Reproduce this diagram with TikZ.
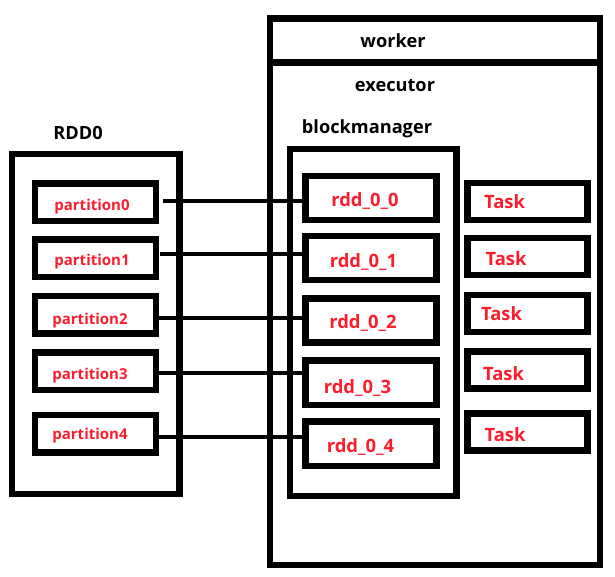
\documentclass[tikz,border=0pt]{standalone}
\usepackage{fontspec}
\setmainfont{Open Sans}
\definecolor{itemred}{RGB}{250,30,45}
\begin{document}
\begin{tikzpicture}[x=1pt, y=-1pt,
	frame/.style={draw, line width=6.5pt, inner sep=0pt},
	link/.style={line width=4pt},
	title/.style={anchor=base, inner sep=0pt, font=\bfseries\fontsize{18.2}{21}\selectfont},
	item/.style={anchor=base, inner sep=0pt, text=itemred, font=\bfseries\fontsize{15}{18}\selectfont},
	bigitem/.style={item, font=\bfseries\fontsize{18.4}{21}\selectfont}]

	\useasboundingbox (0,0) rectangle (615,577);

	% Worker, executor and blockmanager frames
	\node[frame, minimum width=330, minimum height=546.5] (worker) at (435, 291.75) {};
	\node[frame, minimum width=330, minimum height=44] (workerhead) at (435, 40.5) {};
	\node[frame, minimum width=166.5, minimum height=347] (bm) at (373.25, 322.5) {};

	% RDD0 frame
	\node[frame, minimum width=167.5, minimum height=340] (rdd) at (95.75, 324) {};

	% Partition boxes
	\node[frame, minimum width=121, minimum height=37.5] (p0) at (95.5, 202.5) {};
	\node[frame, minimum width=121, minimum height=37.5] (p1) at (95.5, 258) {};
	\node[frame, minimum width=121, minimum height=37.5] (p2) at (95.5, 314.5) {};
	\node[frame, minimum width=121, minimum height=37.5] (p3) at (95.5, 371.25) {};
	\node[frame, minimum width=121, minimum height=37.5] (p4) at (95.5, 433.5) {};

	% Block boxes
	\node[frame, minimum width=131, minimum height=44.2] (b0) at (371, 198) {};
	\node[frame, minimum width=131, minimum height=44.2] (b1) at (371, 258) {};
	\node[frame, minimum width=131, minimum height=44.2] (b2) at (371, 320.5) {};
	\node[frame, minimum width=131, minimum height=44.2] (b3) at (371, 382.75) {};
	\node[frame, minimum width=131, minimum height=44.2] (b4) at (371, 443.75) {};

	% Task boxes
	\node[frame, minimum width=120, minimum height=37] (t0) at (527.5, 201.5) {};
	\node[frame, minimum width=120, minimum height=37] (t1) at (527.5, 256.5) {};
	\node[frame, minimum width=120, minimum height=37] (t2) at (527.5, 313.5) {};
	\node[frame, minimum width=120, minimum height=37] (t3) at (527.5, 370) {};
	\node[frame, minimum width=120, minimum height=37] (t4) at (527.5, 432) {};

	% Titles
	\node[title] (workerlabel) at (393, 48) {worker};
	\node[title] (execlabel) at (395, 92) {executor};
	\node[title] (bmlabel) at (367, 133.5) {blockmanager};
	\node[title] (rddlabel) at (78, 140) {RDD0};

	% Labels
	\node[item] (p0label) at (92, 211) {partition0};
	\node[item] (p1label) at (92, 265) {partition1};
	\node[item] (p2label) at (90, 324) {partition2};
	\node[item] (p3label) at (90, 379) {partition3};
	\node[item] (p4label) at (90, 439) {partition4};
	\node[bigitem] (b0label) at (365, 207) {rdd\_0\_0};
	\node[bigitem] (b1label) at (363.5, 267) {rdd\_0\_1};
	\node[bigitem] (b2label) at (363, 328) {rdd\_0\_2};
	\node[bigitem] (b3label) at (357.5, 393) {rdd\_0\_3};
	\node[bigitem] (b4label) at (360.5, 452.5) {rdd\_0\_4};
	\node[bigitem] (t0label) at (504.5, 209) {Task};
	\node[bigitem] (t1label) at (506, 265.5) {Task};
	\node[bigitem] (t2label) at (501.5, 320.5) {Task};
	\node[bigitem] (t3label) at (503.5, 380.5) {Task};
	\node[bigitem] (t4label) at (505, 441.5) {Task};

	% Links from partitions to blocks
	\draw[link] ([xshift=4pt, yshift=1.5pt]p0.east) -- ([yshift=1.5pt]p0.east -| b0.west);
	\draw[link] ([xshift=1pt, yshift=4pt]p1.east) -- ([yshift=4pt]p1.east -| b1.west);
	\draw[link] ([yshift=-3.5pt]p2.east) -- ([yshift=-3.5pt]p2.east -| b2.west);
	\draw[link] ([yshift=-2pt]p3.east) -- ([yshift=-2pt]p3.east -| b3.west);
	\draw[link] ([yshift=-3.5pt]p4.east) -- ([yshift=-3.5pt]p4.east -| b4.west);
\end{tikzpicture}
\end{document}
